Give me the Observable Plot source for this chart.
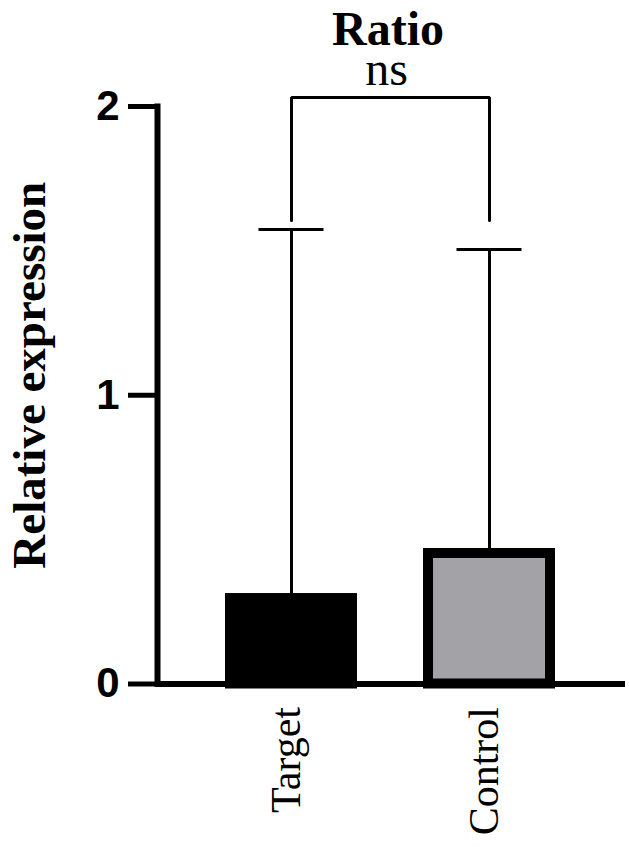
<!DOCTYPE html>
<html>
<head>
<meta charset="utf-8">
<script src="https://cdn.jsdelivr.net/npm/d3@7"></script>
<script src="https://cdn.jsdelivr.net/npm/@observablehq/plot@0.6"></script>
<style>
  html, body { margin: 0; padding: 0; background: #fff; }
  #title { width: 629px; height: 38px; overflow: visible; box-sizing: border-box; padding-top: 3px; padding-left: 147px;
    text-align: center; font: bold 48px "Liberation Serif", "Times New Roman", serif; line-height: 52px; color: #000; }
  #chart svg { display: block; }
</style>
</head>
<body>
<div id="title">Ratio</div>
<div id="chart"></div>
<script>
// Data
const categories = ["Target", "Control"];
const means = [0.296, 0.452];
const upperErrors = [1.574, 1.505];
const barFills = ["#000000", "#a3a2a7"];
const yTicks = [0, 1, 2];
const yLabel = "Relative expression";
const sigLabel = "ns";
const bracketTop = 2.031;
const bracketLegBottom = 1.605;

const bars = categories.map((c, i) => ({category: c, mean: means[i], upper: upperErrors[i], fill: barFills[i]}));
const bracket = [
  {category: categories[0], y: bracketLegBottom},
  {category: categories[0], y: bracketTop},
  {category: categories[1], y: bracketTop},
  {category: categories[1], y: bracketLegBottom}
];

const chart = Plot.plot({
  width: 629,
  height: 809,
  marginLeft: 157,
  marginRight: 4,
  marginTop: 68,
  marginBottom: 163.5,
  style: {background: "transparent", color: "#000", overflow: "visible"},
  x: {type: "band", domain: categories, range: [191.5, 587.5], paddingInner: 0.384, paddingOuter: 0.192},
  y: {domain: [0, 2]},
  marks: [
    Plot.barY(bars, {x: "category", y: "mean", fill: "fill", stroke: "#000", strokeWidth: 10}),
    Plot.ruleX(bars, {x: "category", y1: "mean", y2: "upper", stroke: "#000", strokeWidth: 3}),
    Plot.tickY(bars, {x: "category", y: "upper", stroke: "#000", strokeWidth: 3, insetLeft: 28.5, insetRight: 28.5}),
    Plot.line(bracket, {x: "category", y: "y", stroke: "#000", strokeWidth: 3, strokeLinejoin: "miter"}),
    Plot.text([sigLabel], {frameAnchor: "top", dx: -5, dy: -22, lineAnchor: "bottom", fontSize: 48, fontFamily: "Liberation Serif", fill: "#000"}),
    Plot.text([yLabel], {frameAnchor: "left", textAnchor: "middle", rotate: -90, dx: -128, dy: -20, fontSize: 47, fontWeight: "bold", fontFamily: "Liberation Serif", fill: "#000"}),
    Plot.axisY({ticks: yTicks, tickFormat: d => String(d), tickSize: 29, tickPadding: 9, strokeWidth: 5,
      fontSize: 42, fontWeight: "bold", fontFamily: "Liberation Sans", label: null}),
    Plot.axisX({tickRotate: -90, tickSize: 0, tickPadding: 23, dx: -5, fontSize: 42, fontFamily: "Liberation Serif", label: null}),
    Plot.frame({anchor: "left", strokeWidth: 6, stroke: "#000"}),
    Plot.ruleY([0], {stroke: "#000", strokeWidth: 6})
  ]
});
document.getElementById("chart").appendChild(chart);
</script>
</body>
</html>
